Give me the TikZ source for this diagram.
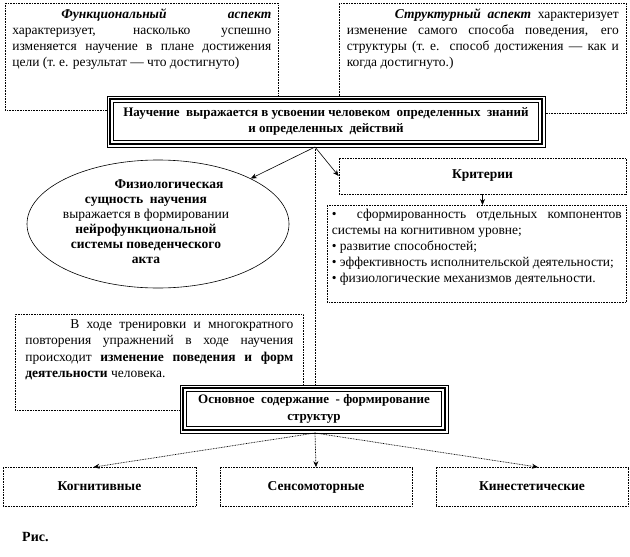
\documentclass[tikz,border=0pt]{standalone}
\usepackage{fontspec}
\setmainfont{Liberation Serif}
\usetikzlibrary{arrows.meta, shapes.geometric, positioning, calc}

\newcommand{\boxpar}[3]{\parbox[c][#2pt][t]{#1pt}{\setlength{\parindent}{0pt}#3}}

\tikzset{
	dotbox/.style={draw, line width=0.7pt, dash pattern=on 0.8pt off 0.8pt, fill=white},
	framebox/.style={draw, line width=0.8pt, fill=white, align=center},
	kindbox/.style={dotbox, minimum width=192, minimum height=39, text height=10pt, text depth=3pt, font=\fontsize{13.5}{16}\bfseries},
	conn/.style={-{Stealth[length=6pt,width=5pt]}, line width=0.6pt},
	dotconn/.style={-{Stealth[length=6pt,width=5pt]}, line width=0.7pt, dash pattern=on 0.8pt off 0.8pt}
}

\begin{document}
\begin{tikzpicture}[x=1pt, y=-1pt, font=\fontsize{13.5}{16}\selectfont]
	\useasboundingbox (0,0) rectangle (630,557);

	% the two aspects
	\node[dotbox, anchor=north west, minimum width=273, minimum height=107, inner sep=0] (funk) at (5,3)
		{\boxpar{259}{97}{\hspace*{49pt}\textbf{\textit{Функциональный}} \textbf{\textit{аспект}}\linebreak
		характеризует, насколько успешно\linebreak изменяется научение в плане достижения\linebreak
		цели (т.~е. результат — что достигнуто)}};
	\node[dotbox, anchor=north west, minimum width=287, minimum height=110, inner sep=0] (struk) at (339,3)
		{\boxpar{272}{100}{\hspace*{48pt}\textbf{\textit{Структурный аспект}} характеризует\linebreak
		изменение самого способа поведения, его\linebreak структуры (т.~е. способ достижения — как и\linebreak
		когда достигнуто.)}};

	% main statement
	\node[framebox, minimum width=438, minimum height=51, font=\fontsize{13}{15.5}\selectfont] (main) at (326,121.5)
		{\textbf{Научение~ выражается в усвоении человеком~ определенных~ знаний}\\\textbf{и определенных~ действий}};
	\draw[line width=2.4pt] ([shift={(3.5,3.5)}]main.north west) rectangle ([shift={(-3.5,-3.5)}]main.south east);
	\draw[line width=0.8pt] ([shift={(7,7)}]main.north west) rectangle ([shift={(-7,-7)}]main.south east);
	\coordinate (mainfoot) at (315,147);

	\node[ellipse, draw, line width=0.6pt, minimum width=262, minimum height=128, inner sep=0] (fiz) at (158,224) {};
	\node[align=center, font=\fontsize{13.5}{15}\selectfont] (fiztext) at (146,222)
		{\hspace*{46pt}\textbf{Физиологическая}\\ \textbf{сущность~ научения}\\ выражается в формировании\\
		\textbf{нейрофункциональной}\\ \textbf{системы поведенческого}\\ \textbf{акта}};

	\node[dotbox, minimum width=287, minimum height=36] (krit) at (482.5,176) {\textbf{Критерии}};
	\node[dotbox, anchor=north west, minimum width=299, minimum height=97, inner sep=0] (crit) at (327,205)
		{\boxpar{290}{89}{•~ сформированность отдельных компонентов\linebreak системы на когнитивном уровне;\par
		• развитие способностей;\par • эффективность исполнительской деятельности;\par
		• физиологические механизмов деятельности.}};

	\node[dotbox, anchor=north west, minimum width=288, minimum height=96, inner sep=0,
		font=\fontsize{13.5}{16.5}\selectfont] (trn) at (15,314)
		{\boxpar{268}{86}{\hspace*{45pt}В ходе тренировки и многократного\linebreak повторения упражнений в ходе научения\linebreak
		происходит \textbf{изменение поведения и форм}\linebreak \textbf{деятельности} человека.}};

	% structures
	\node[framebox, minimum width=268, minimum height=48, font=\fontsize{13}{17}\selectfont] (osn) at (314,409)
		{\textbf{Основное~ содержание~ - формирование}\\\textbf{структур}};
	\draw[line width=2.4pt] ([shift={(3.5,3.5)}]osn.north west) rectangle ([shift={(-3.5,-3.5)}]osn.south east);
	\draw[line width=0.8pt] ([shift={(7,7)}]osn.north west) rectangle ([shift={(-7,-7)}]osn.south east);
	\coordinate (osnhead) at (315,385);
	\coordinate (osnfoot) at (315,433);

	\node[kindbox, minimum width=193] (cog) at (99.5,487) {Когнитивные};
	\node[kindbox] (sens) at (316,487) {Сенсомоторные};
	\node[kindbox] (kin) at (532,487) {Кинестетические};

	\node[anchor=west, inner sep=0, font=\fontsize{14}{16}\bfseries] (ris) at (22,537) {Рис.};

	% connectors
	\draw[conn] (mainfoot) -- (fiz);
	\draw[conn] (mainfoot) -- (krit.west);
	\draw[line width=0.7pt, dash pattern=on 0.8pt off 0.8pt] (mainfoot) -- (osnhead);
	\draw[conn] (krit.south) -- (krit.south |- crit.north);
	\draw[dotconn] (osnfoot) -- ([xshift=-6pt]cog.north);
	\draw[dotconn] (osnfoot) -- (sens.north);
	\draw[dotconn] (osnfoot) -- ([xshift=6pt]kin.north);
\end{tikzpicture}
\end{document}
